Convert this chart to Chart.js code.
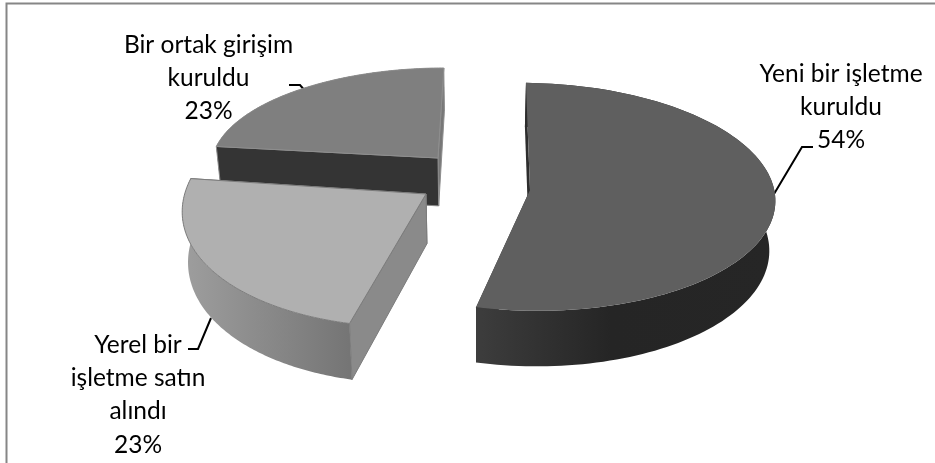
<!DOCTYPE html>
<html>
<head>
<meta charset="utf-8">
<style>html,body{margin:0;padding:0;background:#fff}canvas{display:block}</style>
<script src="https://cdn.jsdelivr.net/npm/chart.js@4/dist/chart.umd.min.js"></script>
</head>
<body>
<canvas id="c" width="935" height="463"></canvas>
<script>
const categories = ["Yeni bir işletme kuruldu", "Yerel bir işletme satın alındı", "Bir ortak girişim kuruldu"];
const shares = [53.6, 23.4, 23.0];
const labelLines = [
  ["Yeni bir işletme", "kuruldu"],
  ["Yerel bir", "işletme satın", "alındı"],
  ["Bir ortak girişim", "kuruldu"]
];

// Look of each exploded slice in the tilted view (offsets relative to the pie centre)
const looks = [
  {dx:62.5, dy:-41.5, rx:1.058, ry:113.5, sk:0,   sy:4,   top:'#5f5f5f', startWall:'#2d2d2d', endWall:'#2d2d2d', rim:[[0,'#3d3d3d'],[0.45,'#252525'],[1,'#262626']], rimLeftToRight:true, edge:null},
  {dx:-41.5,dy:-37.5, rx:1.04,  ry:125,   sk:24,  sy:2,   top:'#b0b0b0', startWall:'#8a8a8a', endWall:'#8a8a8a', rim:[[0,'#757575'],[1,'#9e9e9e']], edge:'#7c7c7c'},
  {dx:-29.5,dy:-73.5, rx:0.974, ry:95.4,  sk:9.5, sy:1.3, top:'#7f7f7f', startWall:'#343434', endWall:'#777777', rim:[[0,'#343434'],[1,'#343434']], edge:'#8e8e8e', endWallOverRim:true}
];
const persp = 0.06, vanishX = 473, shrink = 0.98;
const labelPos = [
  {x:841, y:74}, {x:138, y:345}, {x:208.5, y:45}
];
const leaders = [
  [[774,194],[802,147],[813,147]],
  [[211,318],[198,349],[188,349]],
  [[289,85],[300,85],[306,92]]
];

function bottom(p){ return [vanishX + (p[0]-vanishX)*shrink, p[1]*1.05 + 40]; }
function poly(ctx, pts){ ctx.beginPath(); pts.forEach((p,i)=> i?ctx.lineTo(p[0],p[1]):ctx.moveTo(p[0],p[1])); ctx.closePath(); }

const pie3d = {
  id:'pie3d',
  beforeDraw(chart){
    const ctx = chart.ctx;
    ctx.save();
    ctx.fillStyle='#fff'; ctx.fillRect(0,0,chart.width,chart.height);
    ctx.strokeStyle='#868686'; ctx.lineWidth=2;
    ctx.beginPath(); ctx.moveTo(6.5,463); ctx.lineTo(6.5,3.5); ctx.lineTo(935,3.5); ctx.stroke();
    ctx.restore();
  },
  beforeDatasetsDraw(chart){
    const ctx = chart.ctx, meta = chart.getDatasetMeta(0);
    ctx.save();
    ctx.strokeStyle='#000'; ctx.lineWidth=2;
    leaders.forEach(l=>{ ctx.beginPath(); l.forEach((p,i)=>i?ctx.lineTo(p[0],p[1]):ctx.moveTo(p[0],p[1])); ctx.stroke(); });

    [2,1,0].forEach(i=>{
      const el = meta.data[i], L = looks[i];
      const ax = el.x + L.dx, ay = el.y + L.dy, rx = el.outerRadius*L.rx;
      const proj = a => {
        const u = Math.cos(a), v = -Math.sin(a), w = 1 + persp*v;
        return [ax + rx*u/w + L.sk*v, ay - L.ry*v/w + L.sy*u];
      };
      const arc = [];
      const n = 120;
      for(let k=0;k<=n;k++) arc.push(proj(el.startAngle + (el.endAngle-el.startAngle)*k/n));
      const apex = [ax,ay];
      const arcB = arc.map(bottom), apexB = bottom(apex);
      const strokeEdge = () => { if(L.edge){ ctx.strokeStyle=L.edge; ctx.lineWidth=1; ctx.stroke(); } };
      const endWall = () => { ctx.fillStyle = L.endWall; poly(ctx,[apex,arc[n],arcB[n],apexB]); ctx.fill(); strokeEdge(); };
      // far radial wall, rim, then near radial wall
      if(!L.endWallOverRim) endWall();
      const xs = arc.map(p=>p[0]), lo = Math.min(...xs), hi = Math.max(...xs);
      const g = L.rimLeftToRight ? ctx.createLinearGradient(lo,0,hi,0) : ctx.createLinearGradient(hi,0,lo,0);
      L.rim.forEach(s=>g.addColorStop(s[0],s[1]));
      ctx.fillStyle = g;
      poly(ctx, arc.concat(arcB.slice().reverse())); ctx.fill();
      if(L.endWallOverRim) endWall();
      ctx.fillStyle = L.startWall;
      poly(ctx,[apex,arc[0],arcB[0],apexB]); ctx.fill(); strokeEdge();
      // top face
      ctx.fillStyle = L.top;
      poly(ctx,[apex].concat(arc)); ctx.fill(); strokeEdge();
    });
    ctx.restore();
    return false;
  }
};
function drawLabels(chart){
  const ctx = chart.ctx, total = shares.reduce((a,b)=>a+b,0);
  ctx.save();
  ctx.font = '24.5px Lato, "Open Sans", sans-serif';
  ctx.fillStyle='#000'; ctx.textAlign='center'; ctx.textBaseline='middle';
  labelLines.forEach((lines,i)=>{
    lines.concat([Math.round(shares[i]/total*100)+'%']).forEach((t,j)=>{
      ctx.fillText(t, labelPos[i].x, labelPos[i].y + j*33.2);
    });
  });
  ctx.restore();
}

new Chart(document.getElementById('c'),{
  type:'pie',
  data:{labels:categories,datasets:[{data:shares,backgroundColor:looks.map(l=>l.top),borderWidth:0}]},
  options:{
    responsive:false, animation:false, rotation:-1,
    events:[],
    layout:{padding:0},
    plugins:{legend:{display:false},tooltip:{enabled:false}}
  },
  plugins:[pie3d,{id:'labels3d',afterDraw:drawLabels}]
});
</script>
</body>
</html>
